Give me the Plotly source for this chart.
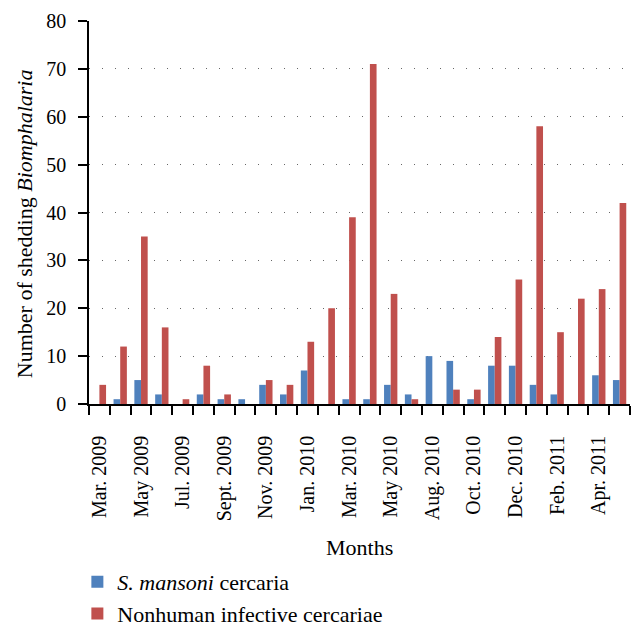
import plotly.graph_objects as go

months = ["Mar. 2009", "Apr. 2009", "May 2009", "Jun. 2009", "Jul. 2009", "Aug. 2009",
          "Sept. 2009", "Oct. 2009", "Nov. 2009", "Dec. 2009", "Jan. 2010", "Feb. 2010",
          "Mar. 2010", "Apr. 2010", "May 2010", "Jun. 2010", "Aug. 2010", "Sept. 2010",
          "Oct. 2010", "Nov. 2010", "Dec. 2010", "Jan. 2011", "Feb. 2011", "Mar. 2011",
          "Apr. 2011", "May 2011"]
tick_labels = ["Mar. 2009", "", "May 2009", "", "Jul. 2009", "", "Sept. 2009", "",
               "Nov. 2009", "", "Jan. 2010", "", "Mar. 2010", "", "May 2010", "",
               "Aug. 2010", "", "Oct. 2010", "", "Dec. 2010", "", "Feb. 2011", "",
               "Apr. 2011", ""]
s_mansoni = [0, 1, 5, 2, 0, 2, 1, 1, 4, 2, 7, 0, 1, 1, 4, 2, 10, 9, 1, 8, 8, 4, 2, 0, 6, 5]
nonhuman = [4, 12, 35, 16, 1, 8, 2, 0, 5, 4, 13, 20, 39, 71, 23, 1, 0, 3, 3, 14, 26, 58, 15, 22, 24, 42]
y_ticks = [0, 10, 20, 30, 40, 50, 60, 70, 80]

FONT = "Liberation Serif"

fig = go.Figure()
fig.add_trace(go.Bar(x=months, y=s_mansoni, name="<i>S. mansoni</i> cercaria",
                     marker=dict(color="#4F81BD", line=dict(width=0))))
fig.add_trace(go.Bar(x=months, y=nonhuman, name="Nonhuman infective cercariae",
                     marker=dict(color="#C0504D", line=dict(width=0))))

# page body has an 8px margin, so the figure is sized/offset to compensate
fig.update_layout(
    width=636, height=623,
    margin=dict(l=81, r=14, t=13, b=227, autoexpand=False),
    paper_bgcolor="white", plot_bgcolor="white",
    font=dict(family=FONT, size=20, color="black"),
    barmode="group", bargap=0.36, bargroupgap=0,
    showlegend=True,
    legend=dict(orientation="v", x=-0.0215, xanchor="left", y=-0.41, yanchor="top",
                font=dict(family=FONT, size=22), itemsizing="constant",
                bgcolor="rgba(0,0,0,0)", tracegroupgap=0),
    xaxis=dict(
        type="category", tickmode="array", tickvals=months, ticktext=tick_labels,
        tickson="boundaries", ticks="outside", ticklen=9, tickwidth=1.5, tickcolor="black",
        tickangle=-90, tickfont=dict(family=FONT, size=20), ticklabelstandoff=22,
        showline=True, linecolor="black", linewidth=1.5, showgrid=False,
        zeroline=False, automargin=False,
    ),
    yaxis=dict(
        range=[0, 80], tickvals=y_ticks, ticks="outside", ticklen=9, tickwidth=1.5,
        tickcolor="black", tickfont=dict(family=FONT, size=20), ticklabelstandoff=8,
        showline=True, linecolor="black", linewidth=1.5,
        showgrid=True, gridcolor="#666666", gridwidth=1, griddash="1px,12px",
        zeroline=False, automargin=False,
    ),
    annotations=[
        dict(text="Months", xref="paper", yref="paper", x=0.5, y=-0.375,
             xanchor="center", yanchor="middle", showarrow=False,
             font=dict(family=FONT, size=22)),
        dict(text="Number of shedding <i>Biomphalaria</i>", xref="paper", yref="paper",
             x=-0.118, y=0.47, xanchor="center", yanchor="middle", textangle=-90,
             showarrow=False, font=dict(family=FONT, size=22)),
    ],
)

fig.write_html("out.html")
